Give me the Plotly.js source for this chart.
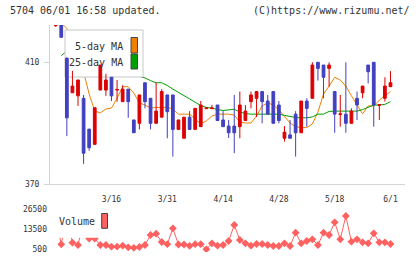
<!DOCTYPE html>
<html>
<head>
<meta charset="utf-8">
<script src="https://cdn.plot.ly/plotly-3.0.1.min.js"></script>
<style>
  html, body { margin: 0; padding: 0; background: #fff; }
  #chart { width: 420px; height: 259px; }
</style>
</head>
<body>
<div id="chart"></div>
<script>
// Trading days (2020-03-02 .. 2020-06-01)
const dates = ['3/2','3/3','3/4','3/5','3/6','3/9','3/10','3/11','3/12','3/13',
  '3/16','3/17','3/18','3/19','3/23','3/24','3/25','3/26','3/27','3/30',
  '3/31','4/1','4/2','4/3','4/6','4/7','4/8','4/9','4/10','4/13',
  '4/14','4/15','4/16','4/17','4/20','4/21','4/22','4/23','4/24','4/27',
  '4/28','4/30','5/1','5/7','5/8','5/11','5/12','5/13','5/14','5/15',
  '5/18','5/19','5/20','5/21','5/22','5/25','5/26','5/27','5/28','5/29','6/1'];

const open  = [421.9,425.0,411.2,399.9,398.9,398.1,388.0,383.0,400.8,400.8,
  405.0,400.8,397.0,401.1,391.0,389.9,403.2,398.1,389.9,391.9,
  399.2,399.2,387.9,385.0,391.9,387.9,388.8,394.7,394.7,395.9,
  391.0,389.0,389.0,388.8,390.8,397.0,398.1,400.3,397.2,400.3,
  395.9,385.0,386.1,392.9,386.8,397.2,398.1,409.9,409.0,407.9,
  400.3,392.8,392.9,389.9,398.1,399.9,409.0,409.9,395.8,398.1,401.9];
const high  = [430.0,426.0,411.6,407.1,404.1,399.2,388.0,395.0,409.0,406.1,
  405.0,404.1,402.4,401.1,391.0,399.2,403.2,398.1,403.2,401.1,
  399.2,399.2,391.0,391.9,393.9,394.8,397.2,395.0,395.9,395.9,
  393.9,391.0,399.2,400.3,395.9,400.3,400.3,400.3,399.2,400.3,
  397.2,389.0,391.0,393.9,397.2,398.1,409.9,409.9,409.0,409.9,
  400.3,399.2,409.9,394.8,400.3,402.1,409.0,409.9,396.0,405.0,407.0];
const low   = [421.5,418.1,385.7,399.9,395.6,376.6,380.9,383.0,400.8,398.9,
  397.2,397.0,397.0,391.7,386.8,387.9,394.8,387.9,389.9,391.9,
  385.0,379.0,387.9,385.0,387.9,387.9,388.8,394.6,394.6,390.8,
  388.8,385.1,380.1,385.0,390.8,394.8,391.9,389.9,392.9,389.9,
  389.9,383.9,385.0,379.0,386.8,388.8,398.1,403.9,398.1,401.9,
  386.8,388.8,386.8,389.9,391.0,398.1,403.0,388.8,391.0,397.0,401.9];
const close = [428.0,418.1,391.7,402.1,404.1,380.1,381.9,395.0,409.0,404.1,
  398.9,401.0,401.1,397.0,386.8,399.2,397.0,389.9,393.9,400.3,
  393.7,387.9,391.0,391.9,387.9,394.8,395.9,394.9,394.9,390.8,
  388.8,386.8,386.8,395.9,393.9,399.2,400.3,397.0,392.9,389.9,
  390.8,387.0,385.0,386.8,397.2,394.8,409.0,407.9,405.0,409.0,
  392.9,393.0,389.9,393.9,395.9,402.1,406.8,395.9,396.0,402.1,403.2];

// Moving averages
const ma5  = [425.0,422.8,421.0,417.0,412.0,406.7,399.5,393.9,393.3,394.6,
  394.9,398.1,401.9,401.9,399.8,396.6,395.9,394.9,395.1,395.1,
  395.1,394.6,392.9,392.9,392.9,391.3,389.7,390.7,392.3,392.9,
  392.9,392.9,392.6,390.3,390.0,390.0,392.3,395.6,396.6,395.9,
  394.3,392.3,390.0,388.8,388.5,388.5,389.7,393.6,399.5,402.1,
  405.0,404.1,402.1,398.9,395.9,393.0,395.6,395.6,397.5,398.9,400.3];
const ma25 = [null,412.1,413.6,414.0,413.5,412.5,411.5,410.5,409.5,408.8,
  408.0,407.3,406.7,406.2,405.8,405.4,404.8,403.9,403.2,403.2,
  402.3,401.1,400.1,399.0,397.9,396.8,395.7,395.1,394.9,394.4,
  394.1,394.3,394.5,393.6,393.1,392.9,392.9,392.9,392.9,392.9,
  392.9,392.5,392.1,391.8,391.7,391.7,392.0,392.9,392.9,393.8,
  393.9,393.9,393.9,393.9,393.9,394.4,395.1,395.9,395.9,396.1,397.0];

// Volume
const volume = [21000,3880,24000,4920,3430,20000,7650,7650,3430,3430,
  2320,2320,2970,1930,1600,2130,3430,9930,10770,5380,
  3950,14280,3750,3750,2910,3950,3950,630,4530,2970,
  3430,6030,16430,6680,4530,2970,4080,4080,3430,2780,
  2780,4530,2780,11420,4530,6030,7130,3430,11420,9930,
  18180,7130,22280,5570,7130,5180,4530,11030,5180,5180,4080];

const dateTicks  = ['3/16','3/31','4/14','4/28','5/18','6/1'];
const priceTicks = [370, 410];
const volTicks   = [500, 13500, 26500];
const volTickText = ['500','13500','26500'];

const legendLabels = ['5-day MA', '25-day MA'];
const volumeLabel = 'Volume';
const headerLeft = '5704 06/01 16:58 updated.';
const headerRight = '(C)https://www.rizumu.net/';

// ---- page geometry (pixels) ----
const W = 420, H = 259;
const PX = v => v / W;
const PY = v => 1 - v / H;
const xRange = [-1.02, 62.6];
const priceRange = [370, 422.13];
const volRange = [-1125, 29425];
const xDom = [PX(50), PX(405)];
const mainDom = [PY(184), PY(25)];
const volDom = [PY(252), PY(205)];
// pixel -> data helpers for the legend frame inside the price panel
const xToIdx = p => xRange[0] + (p - 50) / 355 * (xRange[1] - xRange[0]);
const yToPrice = p => priceRange[1] - (p - 25) / 159 * (priceRange[1] - priceRange[0]);

const MONO = 'DejaVu Sans Mono';
const RED = 'rgb(221,0,0)';
const BLUE = 'rgb(64,64,192)';
const ORANGE = 'rgb(240,128,0)';
const GREEN = 'rgb(0,160,0)';
const VOLC = 'rgb(255,96,96)';
const AXC = '#d4d4d4';
const TXT = '#333333';

const traces = [
  { type: 'scatter', mode: 'lines', x: dates, y: ma5, xaxis: 'x', yaxis: 'y',
    line: { color: ORANGE, width: 1 }, hoverinfo: 'skip', showlegend: false },
  { type: 'scatter', mode: 'lines', x: dates, y: ma25, xaxis: 'x', yaxis: 'y',
    line: { color: GREEN, width: 1 }, hoverinfo: 'skip', showlegend: false },
  { type: 'candlestick', x: dates, open: open, high: high, low: low, close: close,
    xaxis: 'x2', yaxis: 'y2',
    increasing: { line: { color: RED, width: 1 }, fillcolor: RED },
    decreasing: { line: { color: BLUE, width: 1 }, fillcolor: BLUE },
    whiskerwidth: 0, hoverinfo: 'skip', showlegend: false },
  { type: 'scatter', mode: 'lines+markers', x: dates, y: volume, xaxis: 'x3', yaxis: 'y3',
    line: { color: VOLC, width: 1 },
    marker: { symbol: 'diamond', size: 6, color: VOLC },
    hoverinfo: 'skip', showlegend: false }
];

const hidden = { visible: false, showgrid: false, zeroline: false };

const layout = {
  width: W, height: H,
  margin: { l: 0, r: 0, t: 0, b: 0 },
  paper_bgcolor: '#fff', plot_bgcolor: 'rgba(0,0,0,0)',
  showlegend: false,
  font: { family: MONO, size: 8, color: TXT },
  xaxis: {
    type: 'category', domain: xDom, range: xRange, anchor: 'y',
    showline: true, linecolor: AXC, linewidth: 1,
    tickmode: 'array', tickvals: dateTicks, ticktext: dateTicks,
    ticks: 'outside', ticklen: 7, tickcolor: 'rgba(0,0,0,0)',
    tickfont: { family: MONO, size: 8, color: TXT },
    showgrid: false, zeroline: false, fixedrange: true,
    rangeslider: { visible: false }
  },
  yaxis: {
    domain: mainDom, range: priceRange, anchor: 'x',
    showline: true, linecolor: AXC, linewidth: 1,
    tickmode: 'array', tickvals: priceTicks, ticktext: priceTicks.map(String),
    ticks: 'outside', ticklen: 5, tickcolor: AXC,
    ticklabelstandoff: 3,
    tickfont: { family: MONO, size: 8, color: TXT },
    showgrid: false, zeroline: false, fixedrange: true
  },
  xaxis2: Object.assign({ type: 'category', domain: xDom, range: xRange, anchor: 'y2',
    rangeslider: { visible: false } }, hidden),
  yaxis2: Object.assign({ domain: mainDom, range: priceRange, anchor: 'x2' }, hidden),
  xaxis3: Object.assign({ type: 'category', domain: xDom, range: xRange, anchor: 'y3' }, hidden),
  yaxis3: {
    domain: volDom, range: volRange, anchor: 'x3',
    showline: false, showgrid: false, zeroline: false,
    tickmode: 'array', tickvals: volTicks, ticktext: volTickText,
    ticks: '', ticklabelstandoff: 2,
    tickfont: { family: MONO, size: 8, color: TXT }, fixedrange: true
  },
  // evenly spaced tick marks along the bottom of the price panel
  xaxis4: {
    overlaying: 'x', anchor: 'y', side: 'bottom', range: [0, 11],
    tickmode: 'linear', tick0: 0, dtick: 1,
    ticks: 'outside', ticklen: 6, tickcolor: AXC, tickwidth: 1,
    showticklabels: false, showline: false, showgrid: false, zeroline: false
  },
  shapes: [
    // legend frame of the price panel (sits over the MA lines, under the candles)
    { type: 'rect', xref: 'x2', yref: 'y2', layer: 'below',
      x0: xToIdx(65), x1: xToIdx(143), y0: yToPrice(77), y1: yToPrice(30),
      fillcolor: '#ffffff', line: { color: '#c8c8c8', width: 1 } },
    { type: 'rect', xref: 'paper', yref: 'paper', layer: 'above',
      x0: PX(131), x1: PX(137.5), y0: PY(53), y1: PY(37.5),
      fillcolor: ORANGE, line: { color: '#444', width: 1 } },
    { type: 'rect', xref: 'paper', yref: 'paper', layer: 'above',
      x0: PX(131), x1: PX(137.5), y0: PY(69), y1: PY(54),
      fillcolor: GREEN, line: { color: '#444', width: 1 } },
    // volume legend
    { type: 'rect', xref: 'paper', yref: 'paper', layer: 'above',
      x0: PX(50), x1: PX(112), y0: PY(237.7), y1: PY(204),
      fillcolor: '#ffffff', line: { width: 0 } },
    { type: 'rect', xref: 'paper', yref: 'paper', layer: 'above',
      x0: PX(101.7), x1: PX(107.5), y0: PY(228.3), y1: PY(213.5),
      fillcolor: VOLC, line: { color: '#444', width: 1 } }
  ],
  annotations: [
    { text: headerLeft, xref: 'paper', yref: 'paper', x: PX(8), y: PY(10),
      xanchor: 'left', yanchor: 'middle', showarrow: false,
      font: { family: MONO, size: 10, color: TXT } },
    { text: headerRight, xref: 'paper', yref: 'paper', x: PX(412), y: PY(10),
      xanchor: 'right', yanchor: 'middle', showarrow: false,
      font: { family: MONO, size: 10, color: TXT } },
    { text: legendLabels[0], xref: 'paper', yref: 'paper', x: PX(125), y: PY(46.5),
      xanchor: 'right', yanchor: 'middle', showarrow: false,
      font: { family: MONO, size: 10, color: TXT } },
    { text: legendLabels[1], xref: 'paper', yref: 'paper', x: PX(125), y: PY(63),
      xanchor: 'right', yanchor: 'middle', showarrow: false,
      font: { family: MONO, size: 10, color: TXT } },
    { text: volumeLabel, xref: 'paper', yref: 'paper', x: PX(57), y: PY(221.5),
      xanchor: 'left', yanchor: 'middle', showarrow: false,
      font: { family: MONO, size: 10, color: TXT } }
  ]
};

Plotly.newPlot('chart', traces, layout, { staticPlot: true, displayModeBar: false });
</script>
</body>
</html>
